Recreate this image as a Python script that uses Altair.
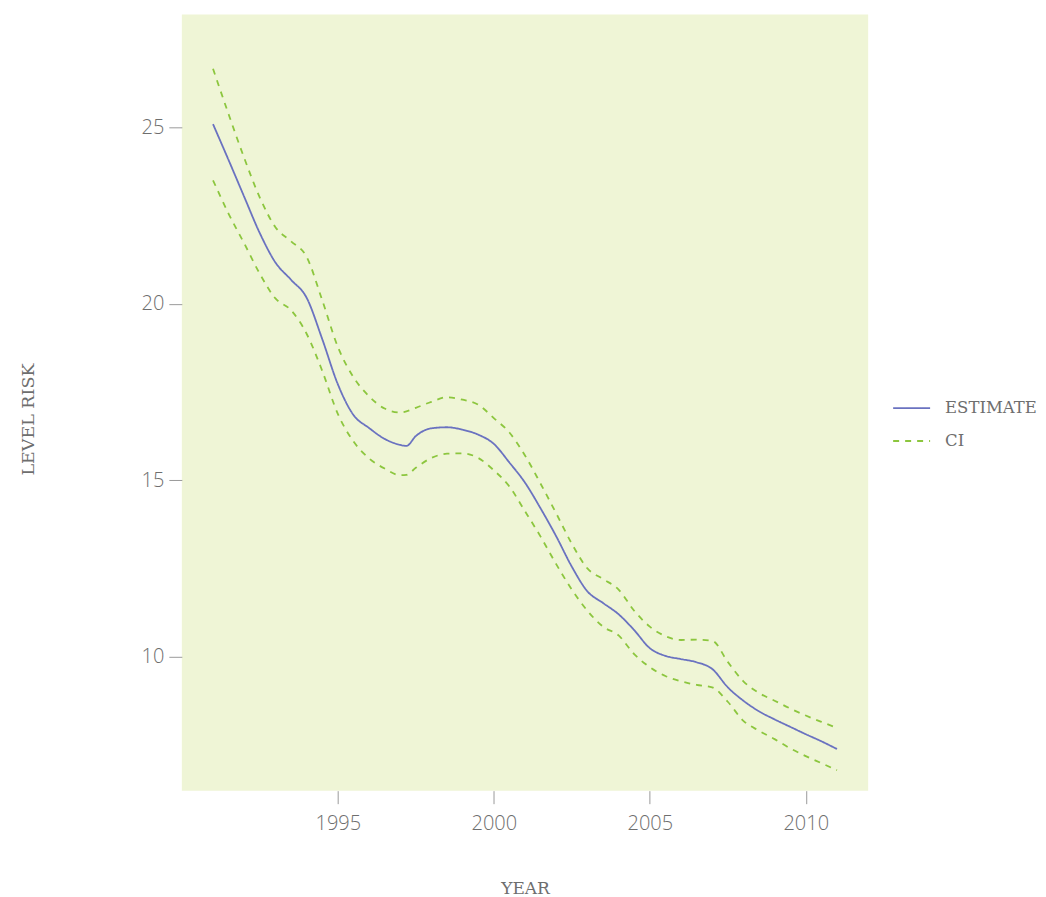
import altair as alt
import pandas as pd

years = [1991.0, 1991.5, 1992.0, 1992.5, 1993.0, 1993.5, 1994.0, 1994.5, 1995.0, 1995.5,
         1996.0, 1996.5, 1997.0, 1997.2, 1997.5, 1998.0, 1998.5, 1999.0, 1999.5, 2000.0,
         2000.5, 2001.0, 2001.5, 2002.0, 2002.5, 2003.0, 2003.5, 2004.0, 2004.5, 2005.0,
         2005.5, 2006.0, 2006.5, 2007.0, 2007.5, 2008.0, 2008.5, 2009.0, 2009.5, 2010.0,
         2010.5, 2011.0]

estimate = [25.09, 24.07, 23.03, 22.00, 21.17, 20.68, 20.17, 19.00, 17.72, 16.85,
            16.48, 16.17, 16.00, 15.97, 16.25, 16.47, 16.50, 16.43, 16.29, 16.03,
            15.50, 14.93, 14.20, 13.41, 12.55, 11.85, 11.52, 11.20, 10.75, 10.24,
            10.02, 9.93, 9.84, 9.65, 9.13, 8.75, 8.45, 8.22, 8.01, 7.80,
            7.60, 7.38]

ci_upper = [26.66, 25.37, 24.13, 23.01, 22.17, 21.77, 21.33, 20.10, 18.78, 17.92,
            17.38, 17.03, 16.92, 16.95, 17.05, 17.22, 17.35, 17.28, 17.14, 16.76,
            16.35, 15.70, 14.90, 14.06, 13.20, 12.50, 12.20, 11.90, 11.30, 10.85,
            10.58, 10.47, 10.48, 10.45, 9.85, 9.30, 8.97, 8.75, 8.53, 8.33,
            8.15, 7.98]

ci_lower = [23.50, 22.55, 21.71, 20.85, 20.15, 19.82, 19.15, 18.10, 16.88, 16.10,
            15.62, 15.33, 15.14, 15.15, 15.35, 15.63, 15.75, 15.76, 15.63, 15.28,
            14.82, 14.12, 13.40, 12.62, 11.90, 11.30, 10.85, 10.60, 10.07, 9.70,
            9.45, 9.30, 9.20, 9.13, 8.72, 8.18, 7.90, 7.66, 7.40, 7.18,
            6.98, 6.78]

x_ticks = [1995, 2000, 2005, 2010]
y_ticks = [10, 15, 20, 25]

rows = []
for name, band, vals in [("ESTIMATE", "ESTIMATE", estimate),
                         ("CI", "CI upper", ci_upper),
                         ("CI", "CI lower", ci_lower)]:
    for yr, v in zip(years, vals):
        rows.append({"year": yr, "value": v, "series": name, "band": band})
df = pd.DataFrame(rows)

label_font = "Open Sans"
title_font = "DejaVu Serif"
grey = "#6e6e6e"

chart = alt.Chart(df).mark_line(strokeWidth=1.8, interpolate="monotone").encode(
    x=alt.X("year:Q",
            scale=alt.Scale(domain=[1990, 2012], nice=False, zero=False),
            axis=alt.Axis(title="YEAR", values=x_ticks, format="d", grid=False,
                          domain=False, tickSize=13, tickColor="#9a9a9a",
                          labelPadding=10, labelFont=label_font, labelFontSize=20,
                          labelFontWeight=300, labelColor=grey,
                          titleFont=title_font, titleFontSize=17, titleFontWeight="normal",
                          titleColor=grey, titleBaseline="alphabetic", titleY=103)),
    y=alt.Y("value:Q",
            scale=alt.Scale(domain=[6.2, 28.2], nice=False, zero=False),
            axis=alt.Axis(title="LEVEL RISK", values=y_ticks, grid=False,
                          domain=False, tickSize=13, tickColor="#9a9a9a",
                          labelPadding=5, labelFont=label_font, labelFontSize=20,
                          labelFontWeight=300, labelColor=grey,
                          titleFont=title_font, titleFontSize=17.5, titleFontWeight="normal",
                          titleColor=grey, titleX=-144, titleY=405)),
    color=alt.Color("series:N",
                    scale=alt.Scale(domain=["ESTIMATE", "CI"], range=["#6a72c0", "#8cc63e"]),
                    legend=alt.Legend(title=None, orient="none", legendX=711, legendY=383,
                                      symbolType="stroke", symbolSize=1369,
                                      symbolStrokeWidth=1.8, labelFont=title_font,
                                      labelFontSize=16.5, labelColor=grey, labelOffset=14,
                                      clipHeight=22, rowPadding=11)),
    strokeDash=alt.StrokeDash("series:N",
                              scale=alt.Scale(domain=["ESTIMATE", "CI"], range=[[1, 0], [6, 6]]),
                              legend=None),
    detail="band:N",
).properties(
    width=687, height=777,
    padding={"left": 174, "top": 6, "right": 170, "bottom": 106},
    autosize=alt.AutoSizeParams(type="none"),
).configure_view(
    fill="#eff5d6", stroke=None
)

chart.save("out.html", embed_options={"renderer": "svg", "actions": False})
